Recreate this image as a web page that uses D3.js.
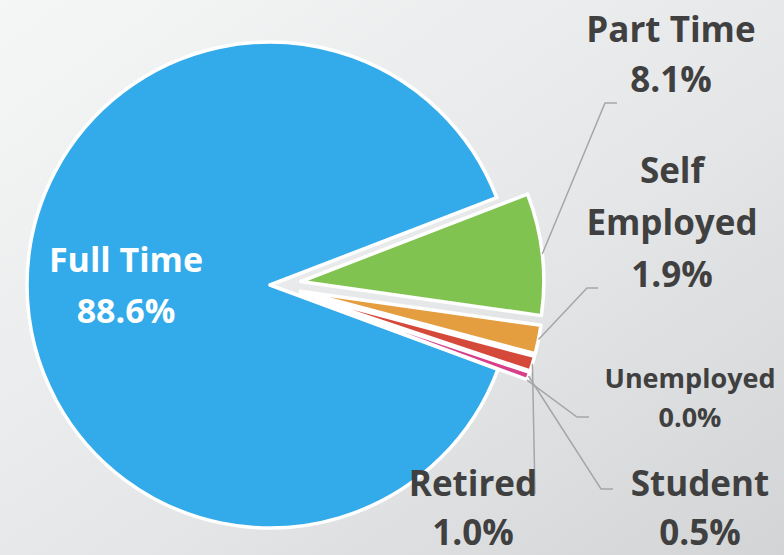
<!DOCTYPE html>
<html>
<head>
<meta charset="utf-8">
<script src="https://cdn.jsdelivr.net/npm/d3@7"></script>
<style>
  html, body { margin: 0; padding: 0; }
  svg { display: block; font-family: "Open Sans", sans-serif; }
</style>
</head>
<body>
<svg class="mz-chart" width="784" height="555"></svg>
<script>
const categories = ["Full Time", "Part Time", "Self Employed", "Retired", "Student", "Unemployed"];
const values = [88.6, 8.1, 1.9, 1.0, 0.5, 0.0];
const valueLabels = ["88.6%", "8.1%", "1.9%", "1.0%", "0.5%", "0.0%"];
const colors = ["#33abea", "#80c351", "#e49e40", "#d5493a", "#d6408a", "#8e6cc0"];

const W = 784;
const H = 555;
const cx = 270;
const cy = 285;
const radius = 243;
const explode = 31;
const firstAngle = (110.3 * Math.PI) / 180;

// label layout: text lines centre x, first baseline, line gap, font size, leader elbow
const labelLayout = {
  "Full Time": { x: 126, y: 272, gap: 51, size: 34, lines: ["Full Time"], fill: "#fff" },
  "Part Time": { x: 671, y: 42, gap: 50, size: 35, lines: ["Part Time"], elbow: [605, 103], end: [617, 103] },
  "Self Employed": { x: 672, y: 183, gap: 52, size: 35, lines: ["Self", "Employed"], elbow: [587, 288], end: [598, 288] },
  Retired: { x: 473, y: 496, gap: 49, size: 35, lines: ["Retired"], elbow: [535, 494] },
  Student: { x: 700, y: 496, gap: 49, size: 35, lines: ["Student"], elbow: [601, 489], end: [613, 489] },
  Unemployed: { x: 690, y: 388, gap: 39, size: 27, lines: ["Unemployed"], elbow: [577, 417], end: [589, 417] },
};

const data = categories.map((c, i) => ({ label: c, value: values[i], text: valueLabels[i], color: colors[i] }));

const $root = d3.select(".mz-chart");

const defs = $root.append("defs");
const grad = defs
  .append("linearGradient")
  .attr("id", "bg")
  .attr("x1", "0")
  .attr("y1", "0")
  .attr("x2", "1")
  .attr("y2", "1");
grad.append("stop").attr("offset", "0%").attr("stop-color", "#f5f6f6");
grad.append("stop").attr("offset", "55%").attr("stop-color", "#e6e7e8");
grad.append("stop").attr("offset", "100%").attr("stop-color", "#d2d4d6");
$root.append("rect").attr("width", W).attr("height", H).attr("fill", "url(#bg)");

const pie = d3
  .pie()
  .sort(null)
  .value((d) => d.value)
  .startAngle(firstAngle)
  .endAngle(firstAngle + 2 * Math.PI);

const arc = d3.arc().innerRadius(0).outerRadius(radius);
const arcs = pie(data);

// offset of a slice along its bisector (first slice stays put)
function shift(d, i) {
  if (i === 0) return [0, 0];
  const a = (d.startAngle + d.endAngle) / 2;
  return [Math.sin(a) * explode, -Math.cos(a) * explode];
}

const $pie = $root.append("g").attr("transform", `translate(${cx}, ${cy})`);

$pie
  .selectAll(".mz-chart__slice")
  .data(arcs)
  .enter()
  .append("path")
  .classed("mz-chart__slice", true)
  .filter((d) => d.endAngle - d.startAngle > 0)
  .attr("transform", (d, i) => `translate(${shift(d, i)})`)
  .attr("d", arc)
  .attr("fill", (d) => d.data.color)
  .attr("stroke", "#fff")
  .attr("stroke-width", 3.5)
  .attr("stroke-linejoin", "round");

// leader lines
const lineGen = d3.line();
arcs.forEach((d, i) => {
  const lay = labelLayout[d.data.label];
  if (!lay.elbow) return;
  const a = (d.startAngle + d.endAngle) / 2;
  const [dx, dy] = shift(d, i);
  const start = [cx + dx + Math.sin(a) * radius, cy + dy - Math.cos(a) * radius];
  const pts = [start, lay.elbow];
  if (lay.end) pts.push(lay.end);
  $root
    .append("path")
    .attr("d", lineGen(pts))
    .attr("fill", "none")
    .attr("stroke", "#a6a6a6")
    .attr("stroke-width", 1.5);
});

// labels
arcs.forEach((d) => {
  const lay = labelLayout[d.data.label];
  const lines = lay.lines.concat([d.data.text]);
  const $t = $root
    .append("text")
    .attr("text-anchor", "middle")
    .attr("font-size", lay.size)
    .attr("font-weight", 700)
    .attr("fill", lay.fill || "#404040");
  lines.forEach((ln, k) => {
    $t.append("tspan").attr("x", lay.x).attr("y", lay.y + k * lay.gap).text(ln);
  });
});
</script>
</body>
</html>
